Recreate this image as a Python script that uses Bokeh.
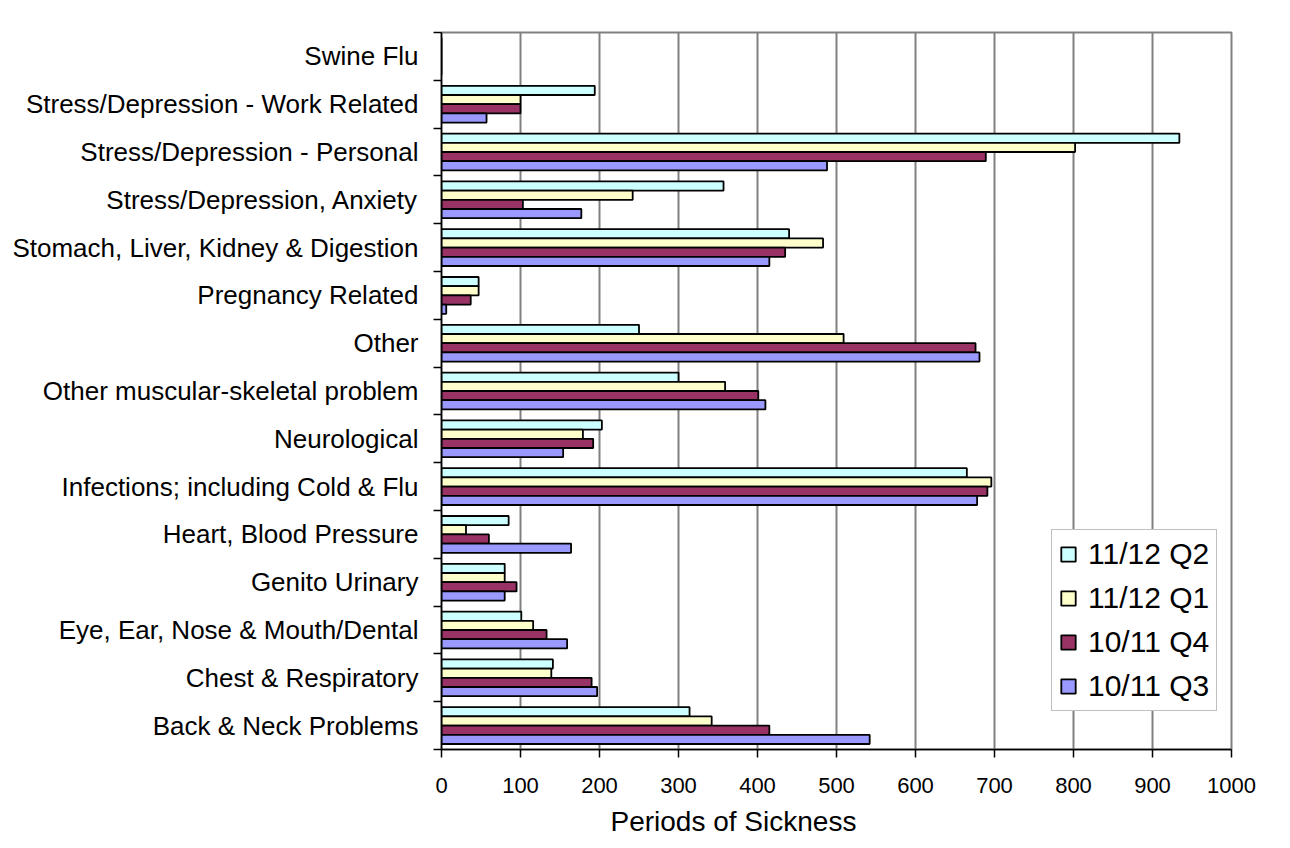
from bokeh.plotting import figure
from bokeh.models import (Range1d, FixedTicker, LinearAxis, Title, Grid,
                          ColumnDataSource, Label)
from bokeh.embed import file_html
from bokeh.resources import INLINE

# Sickness categories, listed bottom to top as they appear on the axis
categories = [
    "Back & Neck Problems",
    "Chest & Respiratory",
    "Eye, Ear, Nose & Mouth/Dental",
    "Genito Urinary",
    "Heart, Blood Pressure",
    "Infections; including Cold & Flu",
    "Neurological",
    "Other muscular-skeletal problem",
    "Other",
    "Pregnancy Related",
    "Stomach, Liver, Kidney & Digestion",
    "Stress/Depression, Anxiety",
    "Stress/Depression - Personal",
    "Stress/Depression - Work Related",
    "Swine Flu",
]

# Periods of sickness per quarter (same order as categories)
q2_1112 = [314, 141, 101, 80, 85, 665, 203, 300, 250, 47, 440, 357, 934, 194, 0]
q1_1112 = [342, 139, 116, 80, 31, 696, 179, 359, 509, 47, 483, 242, 802, 100, 0]
q4_1011 = [415, 190, 133, 95, 60, 691, 192, 401, 676, 37, 435, 103, 689, 100, 0]
q3_1011 = [542, 197, 159, 80, 164, 678, 154, 410, 681, 6, 415, 177, 488, 57, 0]

series_names = ["11/12 Q2", "11/12 Q1", "10/11 Q4", "10/11 Q3"]
series_values = [q2_1112, q1_1112, q4_1011, q3_1011]
series_colors = ["#CCFFFF", "#FFFFCC", "#993366", "#9999FF"]

x_ticks = [0, 100, 200, 300, 400, 500, 600, 700, 800, 900, 1000]

n = len(categories)
bar_h = 0.385            # each category spans 2 units on the y scale
offsets = [1.5 * bar_h, 0.5 * bar_h, -0.5 * bar_h, -1.5 * bar_h]

FONT = "Liberation Sans"

p = figure(
    width=1290, height=848,
    x_range=Range1d(0, 1000), y_range=Range1d(0, 2 * n),
    output_backend="svg", toolbar_location=None,
    x_axis_location=None, y_axis_location=None,
    min_border_left=441, min_border_right=59,
    min_border_top=32, min_border_bottom=99,
)
p.background_fill_color = "white"
p.border_fill_color = "white"
p.outline_line_color = "#808080"
p.outline_line_width = 2

# chart-area border: a box anchored at the top-left corner of the canvas,
# running off past the right and bottom edges
p.add_layout(Label(x=7, y=5, x_units="canvas", y_units="canvas", text=" ",
                   text_align="left", text_baseline="top", text_alpha=0,
                   text_font_size="10px", padding=(0, 3000, 3000, 0),
                   border_line_color="black", border_line_width=2,
                   background_fill_color=None))

for name, vals, color, off in zip(series_names, series_values, series_colors, offsets):
    src = ColumnDataSource(dict(
        y=[2 * i + 1 + off for i in range(n)],
        right=vals,
        cat=categories,
    ))
    p.hbar(y="y", left=0, right="right", height=bar_h, source=src,
           fill_color=color, line_color="black", line_width=1.8,
           legend_label=name)

# x axis
xaxis = LinearAxis(ticker=FixedTicker(ticks=x_ticks, minor_ticks=[]))
xaxis.axis_line_color = "black"
xaxis.axis_line_width = 1.5
xaxis.major_tick_line_color = "black"
xaxis.major_tick_line_width = 1.5
xaxis.major_tick_in = 0
xaxis.major_tick_out = 8
xaxis.major_label_standoff = 20
xaxis.major_label_text_font = FONT
xaxis.major_label_text_font_size = "22px"
xaxis.major_label_text_color = "black"
p.add_layout(xaxis, "below")

# y axis: labels at category centres, tick marks on category boundaries
centres = [2 * i + 1 for i in range(n)]
bounds = [2 * i for i in range(n + 1)]
yaxis = LinearAxis(ticker=FixedTicker(ticks=centres, minor_ticks=bounds))
yaxis.major_label_overrides = {c: name for c, name in zip(centres, categories)}
yaxis.axis_line_color = "black"
yaxis.axis_line_width = 1.5
yaxis.major_tick_in = 0
yaxis.major_tick_out = 0
yaxis.minor_tick_in = 0
yaxis.minor_tick_out = 8
yaxis.minor_tick_line_color = "black"
yaxis.minor_tick_line_width = 1.5
yaxis.major_label_standoff = 15
yaxis.major_label_text_font = FONT
yaxis.major_label_text_font_size = "26px"
yaxis.major_label_text_color = "black"
p.add_layout(yaxis, "left")

# axis title beneath the tick labels
xtitle = Title(text="Periods of Sickness", align="left", offset=169,
               text_font=FONT, text_font_size="28px", text_font_style="normal",
               text_color="black", standoff=17)
p.add_layout(xtitle, "below")

p.xgrid.visible = False
p.ygrid.visible = False
p.add_layout(Grid(dimension=0, ticker=FixedTicker(ticks=x_ticks[1:-1]),
                  grid_line_color="#808080", grid_line_width=2))

leg = p.legend[0]
leg.location = (610, 38)
leg.margin = 0
leg.padding = 7
leg.spacing = 10
leg.glyph_width = 18
leg.glyph_height = 18
leg.label_height = 34
leg.label_standoff = 11
leg.label_text_font = FONT
leg.label_text_font_size = "30px"
leg.label_text_color = "black"
leg.border_line_color = "#808080"
leg.border_line_width = 1.5
leg.background_fill_color = "white"
leg.background_fill_alpha = 1.0

open("out.html", "w").write(file_html(p, INLINE))
